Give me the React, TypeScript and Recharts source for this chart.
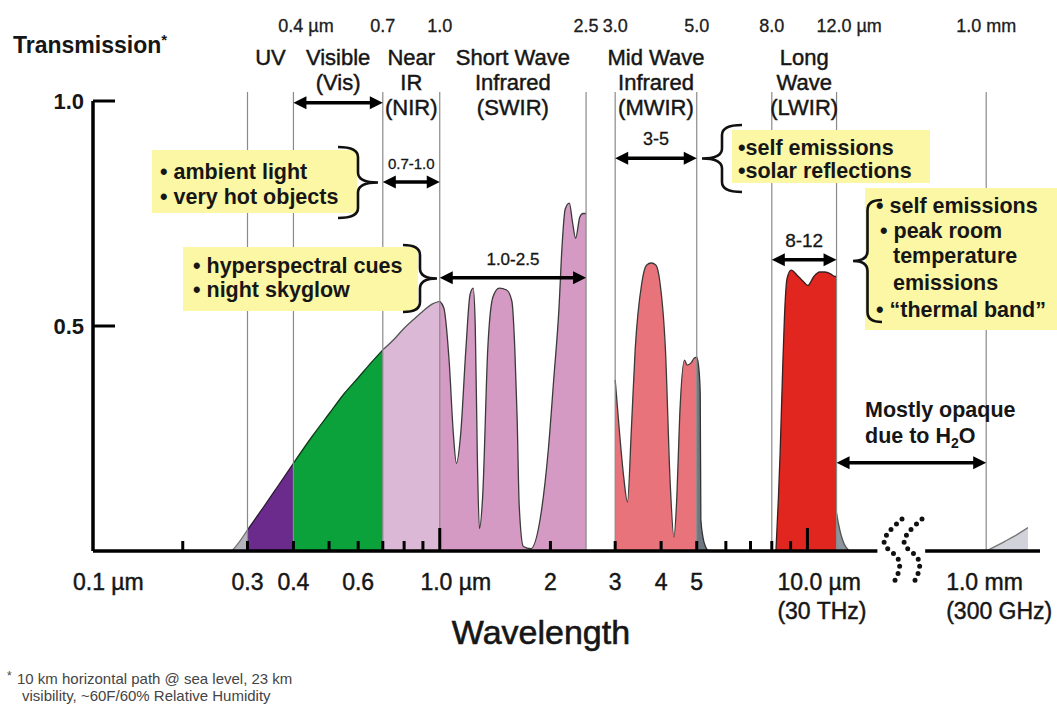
import React from 'react';
import { ComposedChart, Area, XAxis, YAxis, ReferenceLine } from 'recharts';

type Pt = [number, number];

// atmospheric transmission, [wavelength in µm, transmission], one list per colour band
const uvTailPoints: Pt[] = [[0.272, 0], [0.286, 0.022], [0.3, 0.047]];
const uvPoints: Pt[] = [[0.3, 0.047], [0.33, 0.095], [0.36, 0.14], [0.4, 0.195]];
const visPoints: Pt[] = [[0.4, 0.195], [0.45, 0.255], [0.5, 0.305], [0.55, 0.35], [0.6, 0.385], [0.65, 0.418], [0.7, 0.447]];
const nirPoints: Pt[] = [[0.7, 0.447], [0.75, 0.47], [0.8, 0.495], [0.85, 0.515], [0.9, 0.533], [0.95, 0.548], [1.0, 0.555]];
const swirPoints: Pt[] = [
  [1.0, 0.555], [1.026, 0.54], [1.061, 0.42], [1.089, 0.26], [1.11, 0.195], [1.14, 0.26], [1.178, 0.45],
  [1.209, 0.57], [1.233, 0.584], [1.249, 0.5], [1.266, 0.2], [1.282, 0.05], [1.308, 0.12], [1.351, 0.45],
  [1.396, 0.565], [1.452, 0.584], [1.52, 0.58], [1.571, 0.555], [1.6, 0.45], [1.623, 0.3], [1.645, 0.1],
  [1.688, 0.01], [1.767, 0.005], [1.887, 0.085], [1.976, 0.23], [2.041, 0.38], [2.11, 0.54], [2.15, 0.675],
  [2.194, 0.76], [2.252, 0.773], [2.297, 0.73], [2.342, 0.695], [2.404, 0.742], [2.452, 0.75], [2.5, 0.75],
];
const mwirPoints: Pt[] = [
  [3.0, 0.38], [3.09, 0.253], [3.165, 0.164], [3.24, 0.109], [3.32, 0.27], [3.4, 0.447], [3.543, 0.595],
  [3.65, 0.635], [3.76, 0.64], [3.873, 0.635], [3.966, 0.6], [4.11, 0.447], [4.234, 0.151], [4.335, 0.031],
  [4.414, 0.12], [4.494, 0.3], [4.63, 0.424], [4.71, 0.413], [4.825, 0.418], [4.913, 0.428], [5.0, 0.431],
];
const mwirTailPoints: Pt[] = [[5.0, 0.431], [5.06, 0.41], [5.11, 0.35], [5.13, 0.07], [5.2, 0.03], [5.28, 0.01], [5.38, 0]];
const lwirPoints: Pt[] = [
  [8.21, 0], [8.34, 0.12], [8.43, 0.22], [8.56, 0.4], [8.66, 0.52], [8.8, 0.605], [9.03, 0.624], [9.37, 0.613],
  [9.72, 0.6], [10.03, 0.59], [10.41, 0.61], [10.8, 0.62], [11.14, 0.62], [11.56, 0.616], [11.87, 0.61], [12.0, 0.61],
];
const lwirTailPoints: Pt[] = [[12.0, 0.085], [12.15, 0.06], [12.35, 0.035], [12.6, 0.015], [13.0, 0]];
const mmPoints: Pt[] = [[1000, 0], [3000, 0.022], [6000, 0.037], [11000, 0.052]];

const bandEdges = [0.3, 0.4, 0.7, 1.0, 2.5, 3.0, 5.0, 8.0, 12.0, 1000];
const topEdgeLabels = ['0.4 µm', '0.7', '1.0', '2.5', '3.0', '5.0', '8.0', '12.0 µm', '1.0 mm'];
const topEdgeLambdas = [0.4, 0.7, 1.0, 2.5, 3.0, 5.0, 8.0, 12.0, 1000];

const xMinorTicks = [0.2, 0.3, 0.4, 0.5, 0.6, 0.7, 0.8, 0.9, 2, 3, 4, 5, 6, 7, 8, 9];
const xMajorTicks = [1, 10];
const xTickLambdas = [0.114, 0.3, 0.4, 0.6, 1, 2, 3, 4, 5, 10, 1000];
const xTickLabels = ['0.1 µm', '0.3', '0.4', '0.6', '1.0 µm', '2', '3', '4', '5', '10.0 µm', '1.0 mm'];
const xTickSubLabels = ['', '', '', '', '', '', '', '', '', '(30 THz)', '(300 GHz)'];
const yTicks = [0.5, 1.0];

const bandNames = [
  { lo: 0.3, hi: 0.4, lines: ['UV'] },
  { lo: 0.4, hi: 0.7, lines: ['Visible', '(Vis)'] },
  { lo: 0.7, hi: 1.0, lines: ['Near', 'IR', '(NIR)'] },
  { lo: 1.0, hi: 2.5, lines: ['Short Wave', 'Infrared', '(SWIR)'] },
  { lo: 3.0, hi: 5.0, lines: ['Mid Wave', 'Infrared', '(MWIR)'] },
  { lo: 8.0, hi: 12.0, lines: ['Long', 'Wave', '(LWIR)'] },
];

const arrows = [
  { lo: 0.4, hi: 0.7, t: 0.996, label: '', size: 16 },
  { lo: 0.7, hi: 1.0, t: 0.82, label: '0.7-1.0', size: 15 },
  { lo: 1.0, hi: 2.5, t: 0.607, label: '1.0-2.5', size: 17 },
  { lo: 3.0, hi: 5.0, t: 0.873, label: '3-5', size: 18 },
  { lo: 8.0, hi: 12.0, t: 0.647, label: '8-12', size: 19 },
  { lo: 12.0, hi: 1000, t: 0.196, label: '', size: 16 },
];

const FONT = '"Liberation Sans", Arial, Helvetica, sans-serif';
const INK = '#161616';
const W = 1057;
const H = 707;
const margin = { top: 101, right: 17, bottom: 96, left: 33 };
const Y_AXIS_W = 60;
const X_AXIS_H = 60;

const BREAK_LAMBDA = 20;
const BREAK_SQUEEZE = 0.109;
const AXIS_START = 0.114;
const AXIS_END = 22000;
const AXIS_GAP = [15.5, 30];

// log wavelength axis, squeezed after the break so 1 mm fits
function toAxis(lambda: number) {
  const lg = Math.log10(lambda);
  const b = Math.log10(BREAK_LAMBDA);
  return lg <= b ? lg : b + (lg - b) * BREAK_SQUEEZE;
}

const X_DOMAIN: [number, number] = [toAxis(AXIS_START), toAxis(AXIS_END)];
const plotLeft = margin.left + Y_AXIS_W;
const plotRight = W - margin.right;
const plotTop = margin.top;
const plotBottom = H - margin.bottom - X_AXIS_H;
const toPx = (l: number) =>
  plotLeft + ((toAxis(l) - X_DOMAIN[0]) / (X_DOMAIN[1] - X_DOMAIN[0])) * (plotRight - plotLeft);
const toPy = (t: number) => plotBottom - t * (plotBottom - plotTop);

const bands = [
  { key: 'uvTail', points: uvTailPoints, fill: '#b4b4bc', stroke: '#777' },
  { key: 'uv', points: uvPoints, fill: '#6a2b8c', stroke: '#2a1a30' },
  { key: 'vis', points: visPoints, fill: '#0ba23c', stroke: '#103a18' },
  { key: 'nir', points: nirPoints, fill: '#dbb9d6', stroke: '#555' },
  { key: 'swir', points: swirPoints, fill: '#d49ac3', stroke: '#3a3a3a' },
  { key: 'mwir', points: mwirPoints, fill: '#e8737a', stroke: '#3a3a3a' },
  { key: 'mwirTail', points: mwirTailPoints, fill: '#6e7680', stroke: '#333' },
  { key: 'lwir', points: lwirPoints, fill: '#e0261f', stroke: '#3a2020' },
  { key: 'lwirTail', points: lwirTailPoints, fill: '#8c949e', stroke: '#555' },
  { key: 'mm', points: mmPoints, fill: '#d2d2da', stroke: '#777' },
];

const rows = (() => {
  const byLambda = new Map<number, Record<string, number>>();
  bands.forEach((b) =>
    b.points.forEach(([l, t]) => {
      const row = byLambda.get(l) ?? { u: toAxis(l) };
      row[b.key] = t;
      byLambda.set(l, row);
    })
  );
  return Array.from(byLambda.values()).sort((a, b) => a.u - b.u);
})();

const allTickLambdas = Array.from(new Set([...xMinorTicks, ...xMajorTicks, ...xTickLambdas])).sort((a, b) => a - b);

// the scanned original has heavy type; a hairline stroke thickens regular text a little
const heavy = { stroke: INK, strokeWidth: 0.45 };

const XTick = (props: any) => {
  const { x, y, payload } = props;
  const lam = allTickLambdas.find((l) => Math.abs(toAxis(l) - payload.value) < 1e-6);
  if (lam === undefined) return null;
  const li = xTickLambdas.indexOf(lam);
  const len = xMajorTicks.includes(lam) ? 23 : xMinorTicks.includes(lam) ? 10 : 0;
  const fs = 23;
  let label: React.ReactNode = null;
  if (li >= 0) {
    const text = xTickLabels[li];
    const sub = xTickSubLabels[li];
    if (li === 0) {
      label = <text x={x - 20} y={y + 39} fontSize={fs} textAnchor="start" {...heavy}>{text}</text>;
    } else if (sub) {
      const sx = text.endsWith('mm') ? x - 40 : x - 30;
      label = (
        <text x={sx} y={y + 39} fontSize={fs} textAnchor="start" {...heavy}>
          {text}
          <tspan x={sx} dy={29}>{sub}</tspan>
        </text>
      );
    } else if (text.includes(' ')) {
      const num = text.split(' ')[0];
      label = <text x={x - num.length * 0.28 * fs} y={y + 39} fontSize={fs} textAnchor="start" {...heavy}>{text}</text>;
    } else {
      label = <text x={x} y={y + 39} fontSize={fs} textAnchor="middle" {...heavy}>{text}</text>;
    }
  }
  return (
    <g fontFamily={FONT} fill={INK}>
      {len > 0 && <line x1={x} x2={x} y1={y} y2={y - len} stroke="#000" strokeWidth={3} />}
      {label}
    </g>
  );
};

const YTick = (props: any) => {
  const { x, y, payload } = props;
  return (
    <g fontFamily={FONT}>
      <line x1={x} x2={x + 22} y1={y} y2={y} stroke="#000" strokeWidth={3} />
      <text x={x - 9} y={y + 8} textAnchor="end" fontSize={22} fontWeight="bold" fill={INK}>
        {Number(payload.value).toFixed(1)}
      </text>
    </g>
  );
};

const DoubleArrow = (props: any) => {
  const { x1, y1, x2, y2 } = props;
  const left = Math.min(x1, x2);
  const right = Math.max(x1, x2);
  const y = (y1 + y2) / 2;
  const h = 13;
  const w = 6.5;
  return (
    <g>
      <line x1={left + h - 2} x2={right - h + 2} y1={y} y2={y} stroke="#000" strokeWidth={3.5} />
      <polygon points={`${left},${y} ${left + h},${y - w} ${left + h},${y + w}`} fill="#000" />
      <polygon points={`${right},${y} ${right - h},${y - w} ${right - h},${y + w}`} fill="#000" />
    </g>
  );
};

// curly brace, tip points right (dir 1) or left (dir -1)
function bracePath(x0: number, y1: number, y2: number, depth: number, dir: number) {
  const xm = x0 + (depth / 2) * dir;
  const xt = x0 + depth * dir;
  const ym = (y1 + y2) / 2;
  const r = 10;
  return `M ${x0} ${y1} Q ${xm} ${y1} ${xm} ${y1 + r} L ${xm} ${ym - r} Q ${xm} ${ym} ${xt} ${ym} Q ${xm} ${ym} ${xm} ${ym + r} L ${xm} ${y2 - r} Q ${xm} ${y2} ${x0} ${y2}`;
}

const notes = [
  { box: [152, 150, 205, 63], lines: [['• ambient light', 160, 179], ['• very hot objects', 160, 204]], brace: [338, 147, 218, 40, 1] },
  { box: [183, 247, 235, 64], lines: [['• hyperspectral cues', 193, 273], ['• night skyglow', 193, 297]], brace: [403, 245, 312, 34, 1] },
  { box: [732, 130, 198, 53], lines: [['•self emissions', 738, 155], ['•solar reflections', 738, 178]], brace: [742, 125, 192, 40, -1] },
  {
    box: [865, 188, 192, 142],
    lines: [['• self emissions', 876, 213], ['• peak room', 880, 238], ['temperature', 893, 263], ['emissions', 893, 290], ['• \u201cthermal band\u201d', 876, 317]],
    brace: [882, 200, 322, 29, -1],
  },
];

const Overlay = () => (
  <svg width={W} height={H} style={{ position: 'absolute', left: 0, top: 0, pointerEvents: 'none' }} fontFamily={FONT}>
    <text x={13} y={53} fontSize={23} fontWeight="bold" fill={INK}>
      Transmission<tspan fontSize={15} dy={-8}>*</tspan>
    </text>

    {topEdgeLabels.map((text, i) => {
      const x = toPx(topEdgeLambdas[i]);
      const fs = 18;
      if (text.endsWith('µm')) {
        const num = text.split(' ')[0];
        return <text key={text} x={x - num.length * 0.28 * fs} y={32} fontSize={fs} fill="#222" {...heavy} strokeWidth={0.3}>{text}</text>;
      }
      return <text key={text} x={x} y={32} fontSize={fs} textAnchor="middle" fill="#222" {...heavy} strokeWidth={0.3}>{text}</text>;
    })}

    {bandNames.map((b) => {
      const cx = (toPx(b.lo) + toPx(b.hi)) / 2;
      return b.lines.map((line, j) => (
        <text key={b.lo + line} x={cx} y={65 + j * 25} fontSize={22} textAnchor="middle" fill={INK} {...heavy}>{line}</text>
      ));
    })}

    {arrows.filter((a) => a.label).map((a) => (
      <text key={a.label} x={(toPx(a.lo) + toPx(a.hi)) / 2} y={toPy(a.t) - 13} fontSize={a.size} textAnchor="middle" fill={INK} {...heavy} strokeWidth={0.3}>
        {a.label}
      </text>
    ))}

    {notes.map((n, i) => (
      <g key={i}>
        <rect x={n.box[0]} y={n.box[1]} width={n.box[2]} height={n.box[3]} fill="#fbf7a4" />
        {n.lines.map(([t, x, y]) => (
          <text key={t as string} x={x as number} y={y as number} fontSize={21.5} fontWeight="bold" fill={INK}>{t}</text>
        ))}
        <path d={bracePath(n.brace[0], n.brace[1], n.brace[2], n.brace[3], n.brace[4])} fill="none" stroke="#111" strokeWidth={2.6} />
      </g>
    ))}

    <text x={865} y={417} fontSize={21.5} fontWeight="bold" fill={INK}>Mostly opaque</text>
    <text x={865} y={443} fontSize={21.5} fontWeight="bold" fill={INK}>
      due to H<tspan fontSize={14} dy={5}>2</tspan><tspan dy={-5}>O</tspan>
    </text>

    <g fill="none" stroke="#111" strokeWidth={5} strokeDasharray="0 7.5" strokeLinecap="round">
      <path d="M 902 519 C 892 528, 878 540, 887 548 S 907 560, 893 584" />
      <path d="M 922 519 C 912 528, 898 540, 907 548 S 927 560, 913 584" />
    </g>

    <text x={541} y={644} fontSize={34} textAnchor="middle" fill={INK} {...heavy} strokeWidth={0.6}>Wavelength</text>

    <text x={7} y={680} fontSize={12} fill="#444">*</text>
    <text x={17} y={684} fontSize={15} fill="#444">10 km horizontal path @ sea level, 23 km</text>
    <text x={22} y={701} fontSize={15} fill="#444">visibility, ~60F/60% Relative Humidity</text>
  </svg>
);

export default function App() {
  return (
    <div style={{ position: 'relative', width: W, height: H, background: '#fff', overflow: 'hidden' }}>
      <style>{'body{margin:0}'}</style>
      <ComposedChart width={W} height={H} data={rows} margin={margin}>
        {bands.map((b) => (
          <Area
            key={b.key}
            dataKey={b.key}
            type="monotone"
            fill={b.fill}
            fillOpacity={1}
            stroke={b.stroke}
            strokeWidth={1.3}
            connectNulls={false}
            dot={false}
            activeDot={false}
            isAnimationActive={false}
          />
        ))}
        <XAxis
          dataKey="u"
          type="number"
          domain={X_DOMAIN}
          allowDataOverflow
          ticks={allTickLambdas.map(toAxis)}
          interval={0}
          height={X_AXIS_H}
          axisLine={false}
          tickLine={false}
          tickSize={0}
          tickMargin={0}
          tick={<XTick />}
        />
        <YAxis
          type="number"
          domain={[0, 1]}
          ticks={yTicks}
          width={Y_AXIS_W}
          axisLine={{ stroke: '#000', strokeWidth: 3.5 }}
          tickLine={false}
          tickSize={0}
          tickMargin={0}
          tick={<YTick />}
        />
        {bandEdges.map((l) => (
          <ReferenceLine
            key={l}
            segment={[{ x: toAxis(l), y: 0 }, { x: toAxis(l), y: 1.02 }]}
            stroke="#8a8a8a"
            strokeWidth={1.2}
            ifOverflow="visible"
          />
        ))}
        <ReferenceLine
          segment={[{ x: X_DOMAIN[0], y: 0 }, { x: toAxis(AXIS_GAP[0]), y: 0 }]}
          stroke="#000"
          strokeWidth={3.5}
          ifOverflow="visible"
        />
        <ReferenceLine
          segment={[{ x: toAxis(AXIS_GAP[1]), y: 0 }, { x: X_DOMAIN[1], y: 0 }]}
          stroke="#000"
          strokeWidth={3.5}
          ifOverflow="visible"
        />
        {arrows.map((a) => (
          <ReferenceLine
            key={`${a.lo}-${a.hi}`}
            segment={[{ x: toAxis(a.lo), y: a.t }, { x: toAxis(a.hi), y: a.t }]}
            shape={DoubleArrow}
            ifOverflow="visible"
          />
        ))}
      </ComposedChart>
      <Overlay />
    </div>
  );
}
